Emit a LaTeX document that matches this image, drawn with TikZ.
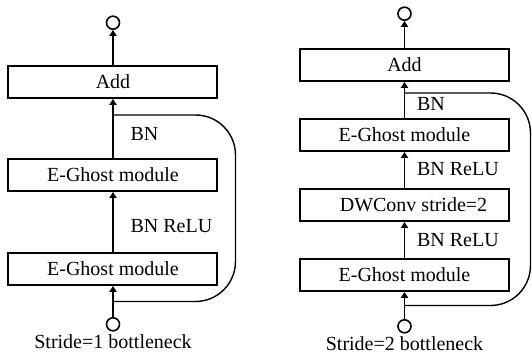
\documentclass[tikz,border=0pt]{standalone}
\usepackage{fontspec}
\setmainfont{Liberation Serif}
\usetikzlibrary{arrows.meta, positioning, calc}
\tikzset{
    bottleneck/.style={>={Triangle[length=3pt,width=3.6pt]}, line width=0.9pt, font=\normalsize, node distance=18pt},
    layer/.style={draw, line width=1pt, minimum width=104.5pt, minimum height=16pt, inner sep=0pt, align=center},
    port/.style={draw, circle, minimum size=6.5pt, inner sep=0pt, line width=0.8pt},
    skip/.style={line width=0.7pt, rounded corners=20pt},
    caption/.style={inner sep=0pt, anchor=base},
    % label beside an arrow between two layers
    op/.style={right=#1},
    op/.default=5pt,
}

\begin{document}
\begin{tikzpicture}[bottleneck]
    \useasboundingbox (0,0) rectangle (266pt,-176pt);

    % stride 1
    \node[layer]                      (addA)    at (56.5pt,-41pt) {Add};
    \node[layer, below=29.5pt of addA]  (ghostA1) {E-Ghost module};
    \node[layer, below=30pt of ghostA1] (ghostA2) {E-Ghost module};
    \node[port, above=17.5pt of addA]   (outA)    {};
    \node[port, below=15.5pt of ghostA2] (inA)    {};
    \node[caption] (capA) at ([yshift=-12pt]inA.center) {Stride=1 bottleneck};
    \coordinate (splitA) at ($(ghostA2.south)!0.5!(inA.north)$);
    \coordinate (mergeA) at ($(addA.south)+(0,-8pt)$);
    \coordinate (sideA)  at (117.75pt,0);

    \draw[->] (inA) -- (ghostA2);
    \draw[->] (ghostA2) -- node[pos=0.43, op] {BN ReLU} (ghostA1);
    \draw[->] (ghostA1) -- node[pos=0.41, op] {BN} (addA);
    \draw[->] (addA) -- (outA);
    \draw[skip] (splitA) -| (sideA |- mergeA) -- (mergeA);

    % stride 2
    \node[layer]                      (addB)    at (202.25pt,-32.5pt) {Add};
    \node[layer, below=of addB]       (ghostB1) {E-Ghost module};
    \node[layer, below=of ghostB1]    (dwB)     {\hspace*{9pt}DWConv stride=2};
    \node[layer, below=of dwB]        (ghostB2) {E-Ghost module};
    \node[port, above=13.5pt of addB] (outB)    {};
    \node[port, below=13.5pt of ghostB2] (inB)  {};
    \node[caption] (capB) at ([yshift=-12pt]inB.center) {Stride=2 bottleneck};
    \coordinate (splitB) at ($(ghostB2.south)!0.5!(inB.north)$);
    \coordinate (mergeB) at ($(addB.south)+(0,-5.5pt)$);
    \coordinate (sideB)  at (265.25pt,0);

    \draw[->] (inB) -- (ghostB2);
    \draw[->] (ghostB2) -- node[pos=0.5, op=2.5pt] {BN ReLU} (dwB);
    \draw[->] (dwB) -- node[pos=0.53, op=2.5pt] {BN ReLU} (ghostB1);
    \draw[->] (ghostB1) -- node[pos=0.39, op=2.5pt] {BN} (addB);
    \draw[->] (addB) -- (outB);
    \draw[skip] (splitB) -| (sideB |- mergeB) -- (mergeB);
\end{tikzpicture}
\end{document}
